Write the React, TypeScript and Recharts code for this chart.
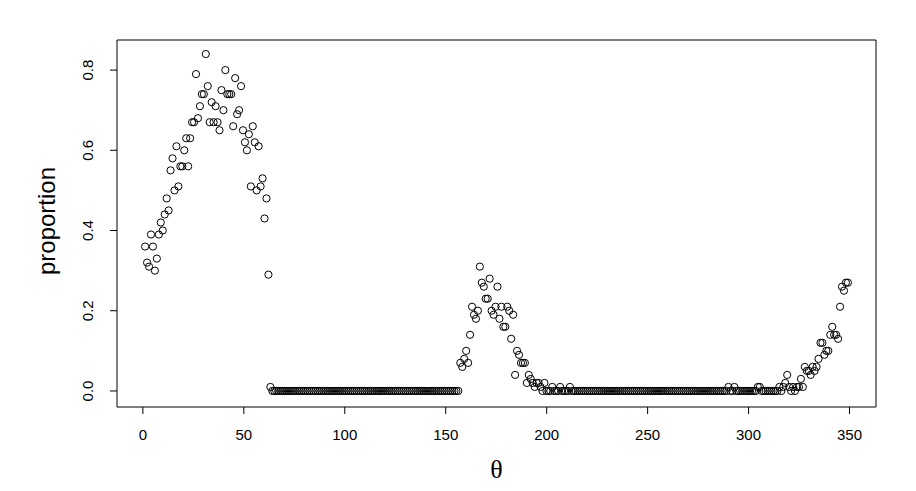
import React from 'react'
import { ScatterChart, Scatter, XAxis, YAxis, ReferenceArea } from 'recharts'

// points are evenly spaced in θ, from the first to the last circle of the picture
const thetaFirst = 1.1
const thetaLast = 349.2

// first peak
const proportionA = [
  0.36, 0.32, 0.31, 0.39, 0.36, 0.30, 0.33, 0.39, 0.42, 0.40,
  0.44, 0.48, 0.45, 0.55, 0.58, 0.50, 0.61, 0.51, 0.56, 0.56,
  0.60, 0.63, 0.56, 0.63, 0.67, 0.67, 0.79, 0.68, 0.71, 0.74,
  0.74, 0.84, 0.76, 0.67, 0.72, 0.67, 0.71, 0.67, 0.65, 0.75,
  0.70, 0.80, 0.74, 0.74, 0.74, 0.66, 0.78, 0.69, 0.70, 0.76,
  0.65, 0.62, 0.60, 0.64, 0.51, 0.66, 0.62, 0.50, 0.61, 0.51,
  0.53, 0.43, 0.48, 0.29, 0.01,
]

// flat at zero
const proportionB = [
  0, 0, 0, 0, 0, 0, 0, 0, 0, 0, 0, 0, 0, 0, 0, 0,
  0, 0, 0, 0, 0, 0, 0, 0, 0, 0, 0, 0, 0, 0, 0, 0,
  0, 0, 0, 0, 0, 0, 0, 0, 0, 0, 0, 0, 0, 0, 0, 0,
  0, 0, 0, 0, 0, 0, 0, 0, 0, 0, 0, 0, 0, 0, 0, 0,
  0, 0, 0, 0, 0, 0, 0, 0, 0, 0, 0, 0, 0, 0, 0, 0,
  0, 0, 0, 0, 0, 0, 0, 0, 0, 0, 0, 0, 0, 0, 0, 0,
]

// second peak
const proportionC = [
  0.07, 0.06, 0.08, 0.10, 0.07, 0.14, 0.21, 0.19, 0.18, 0.20,
  0.31, 0.27, 0.26, 0.23, 0.23, 0.28, 0.20, 0.19, 0.21, 0.26,
  0.18, 0.21, 0.16, 0.16, 0.21, 0.20, 0.13, 0.19, 0.04, 0.10,
  0.09, 0.07, 0.07, 0.07, 0.02, 0.04, 0.03, 0.02, 0.01, 0.02,
  0.02, 0.01, 0, 0.02, 0, 0, 0, 0.01, 0, 0,
  0, 0.01, 0, 0, 0, 0, 0.01,
]

// flat at zero
const proportionD = [
  0, 0, 0, 0, 0, 0, 0, 0, 0, 0, 0, 0, 0, 0, 0, 0,
  0, 0, 0, 0, 0, 0, 0, 0, 0, 0, 0, 0, 0, 0, 0, 0,
  0, 0, 0, 0, 0, 0, 0, 0, 0, 0, 0, 0, 0, 0, 0, 0,
  0, 0, 0, 0, 0, 0, 0, 0, 0, 0, 0, 0, 0, 0, 0, 0,
  0, 0, 0, 0, 0, 0, 0, 0, 0, 0, 0, 0, 0, 0, 0, 0,
]

// rise at the right end
const proportionE = [
  0.01, 0, 0, 0.01, 0, 0, 0, 0, 0, 0,
  0, 0, 0, 0, 0, 0.01, 0.01, 0, 0, 0,
  0, 0, 0, 0, 0, 0, 0.01, 0, 0.01, 0.02,
  0.04, 0.01, 0, 0.01, 0, 0.01, 0.01, 0.03, 0.01, 0.06,
  0.05, 0.05, 0.04, 0.06, 0.05, 0.06, 0.08, 0.12, 0.12, 0.09,
  0.10, 0.10, 0.14, 0.16, 0.14, 0.14, 0.13, 0.21, 0.26, 0.25,
  0.27, 0.27,
]

const xTicks = [0, 50, 100, 150, 200, 250, 300, 350]
const yTicks = [0, 0.2, 0.4, 0.6, 0.8]

const proportions = [...proportionA, ...proportionB, ...proportionC, ...proportionD, ...proportionE]
const thetaStep = (thetaLast - thetaFirst) / (proportions.length - 1)
const data = proportions.map((p, i) => ({ theta: thetaFirst + i * thetaStep, proportion: p }))

// R-style 4% padding around the data range
const xPad = 0.04 * (thetaLast - thetaFirst)
const X_DOMAIN: [number, number] = [thetaFirst - xPad, thetaLast + xPad]
const Y_DOMAIN: [number, number] = [-0.04, 0.875]

const SANS = '"Liberation Sans", Arial, Helvetica, sans-serif'

function XTick({ x, y, payload }: any) {
  return (
    <text x={x} y={y + 24} textAnchor="middle" fontFamily={SANS} fontSize={15} fill="#000">
      {payload.value}
    </text>
  )
}

function YTick({ x, y, payload }: any) {
  const bx = x - 15
  return (
    <text x={bx} y={y} transform={`rotate(-90, ${bx}, ${y})`} textAnchor="middle" fontFamily={SANS} fontSize={15} fill="#000">
      {Number(payload.value).toFixed(1)}
    </text>
  )
}

const XTitle = () => (
  <text x={496.5} y={478} textAnchor="middle" fontFamily='"Liberation Serif", "Times New Roman", serif' fontSize={26} fill="#000">
    θ
  </text>
)

const YTitle = () => (
  <text x={55} y={221} transform="rotate(-90, 55, 221)" textAnchor="middle" fontFamily={SANS} fontSize={24} fill="#000">
    proportion
  </text>
)

const OpenCircle = (props: any) => (
  <circle cx={props.cx} cy={props.cy} r={3.6} fill="none" stroke="#000" strokeWidth={1} />
)

export default function App() {
  return (
    <div style={{ position: 'absolute', left: 0, top: 0, width: 916, height: 491, background: '#fff' }}>
      <ScatterChart width={916} height={491} margin={{ top: 40, right: 40, bottom: 0, left: 0 }}>
        <XAxis
          type="number"
          dataKey="theta"
          domain={X_DOMAIN}
          ticks={xTicks}
          interval={0}
          allowDataOverflow
          height={84}
          axisLine={false}
          tickLine={{ stroke: '#000' }}
          tickSize={7}
          tick={<XTick />}
          label={<XTitle />}
        />
        <YAxis
          type="number"
          dataKey="proportion"
          domain={Y_DOMAIN}
          ticks={yTicks}
          interval={0}
          allowDataOverflow
          width={117}
          axisLine={false}
          tickLine={{ stroke: '#000' }}
          tickSize={7}
          tick={<YTick />}
          label={<YTitle />}
        />
        <ReferenceArea
          x1={X_DOMAIN[0]}
          x2={X_DOMAIN[1]}
          y1={Y_DOMAIN[0]}
          y2={Y_DOMAIN[1]}
          fill="none"
          stroke="#000"
          strokeWidth={1}
          ifOverflow="visible"
        />
        <Scatter data={data} shape={OpenCircle} isAnimationActive={false} />
      </ScatterChart>
    </div>
  )
}
